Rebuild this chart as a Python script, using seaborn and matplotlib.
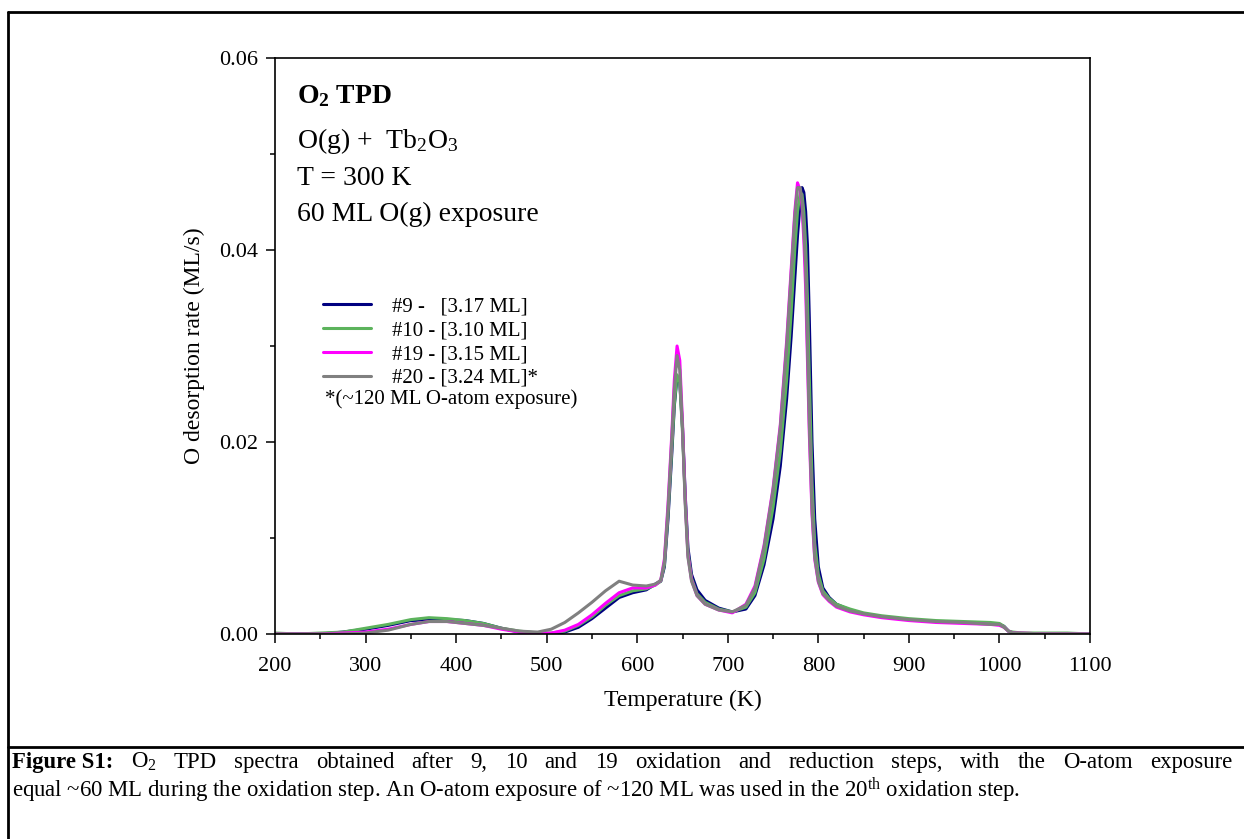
import numpy as np
import pandas as pd
import matplotlib
matplotlib.use('Agg')
import matplotlib.pyplot as plt
import seaborn as sns
from matplotlib.lines import Line2D
from matplotlib.ticker import MultipleLocator, FormatStrFormatter

# temperature grid (K) shared by all four TPD runs
temp = [200, 225, 250, 275, 300, 325, 350, 370, 390, 410, 430, 450, 470, 490,
        505, 520, 535, 550, 565, 580, 595, 610, 620, 626, 630, 634, 638, 641,
        644, 647, 650, 653, 656, 660, 666, 675, 690, 705, 720, 730, 740, 750,
        758, 765, 770, 774, 777, 780, 782, 784, 786, 788, 790, 793, 796, 800,
        805, 812, 820, 835, 850, 870, 900, 930, 960, 990, 1000, 1005, 1010,
        1015, 1025, 1050, 1075, 1100]

# O desorption rate (ML/s)
run9 = [0.0000, 0.0000, 0.0000, 0.0002, 0.0005, 0.0009, 0.0014, 0.0015, 0.0015, 0.0014,
        0.0011, 0.0006, 0.0002, 0.0001, 0.0000, 0.0002, 0.0007, 0.0016, 0.0027, 0.0038,
        0.0043, 0.0046, 0.0052, 0.0055, 0.0070, 0.0120, 0.0185, 0.0238, 0.0268, 0.0262,
        0.0215, 0.0145, 0.0090, 0.0062, 0.0046, 0.0035, 0.0027, 0.0023, 0.0026, 0.0040,
        0.0072, 0.0120, 0.0175, 0.0245, 0.0310, 0.0370, 0.0415, 0.0450, 0.0465, 0.0460,
        0.0440, 0.0405, 0.0330, 0.0200, 0.0120, 0.0070, 0.0048, 0.0038, 0.0031, 0.0025,
        0.0021, 0.0018, 0.0015, 0.0013, 0.0012, 0.0011, 0.0010, 0.0008, 0.0003, 0.0001,
        0.0000, 0.0000, 0.0000, 0.0000]
run10 = [0.0001, 0.0000, 0.0001, 0.0002, 0.0006, 0.0010, 0.0015, 0.0017, 0.0016, 0.0014,
         0.0011, 0.0006, 0.0003, 0.0001, 0.0001, 0.0003, 0.0009, 0.0018, 0.0030, 0.0040,
         0.0045, 0.0047, 0.0051, 0.0055, 0.0072, 0.0125, 0.0190, 0.0240, 0.0270, 0.0262,
         0.0210, 0.0140, 0.0085, 0.0058, 0.0042, 0.0033, 0.0026, 0.0023, 0.0028, 0.0043,
         0.0078, 0.0132, 0.0190, 0.0265, 0.0335, 0.0400, 0.0440, 0.0460, 0.0458, 0.0440,
         0.0405, 0.0350, 0.0270, 0.0160, 0.0095, 0.0062, 0.0045, 0.0037, 0.0031, 0.0026,
         0.0022, 0.0019, 0.0016, 0.0014, 0.0013, 0.0012, 0.0011, 0.0008, 0.0003, 0.0002,
         0.0001, 0.0001, 0.0001, 0.0000]
run19 = [0.0000, 0.0000, 0.0000, 0.0001, 0.0002, 0.0005, 0.0010, 0.0013, 0.0013, 0.0011,
         0.0009, 0.0005, 0.0002, 0.0001, 0.0001, 0.0004, 0.0010, 0.0020, 0.0032, 0.0043,
         0.0048, 0.0048, 0.0051, 0.0056, 0.0078, 0.0135, 0.0205, 0.0265, 0.0300, 0.0285,
         0.0220, 0.0140, 0.0082, 0.0056, 0.0040, 0.0031, 0.0025, 0.0022, 0.0031, 0.0050,
         0.0092, 0.0152, 0.0218, 0.0305, 0.0380, 0.0440, 0.0470, 0.0462, 0.0445, 0.0410,
         0.0360, 0.0285, 0.0210, 0.0125, 0.0078, 0.0054, 0.0041, 0.0034, 0.0028, 0.0023,
         0.0020, 0.0017, 0.0014, 0.0012, 0.0011, 0.0010, 0.0009, 0.0007, 0.0003, 0.0001,
         0.0001, 0.0000, 0.0000, 0.0000]
run20 = [0.0000, 0.0000, 0.0000, 0.0000, 0.0001, 0.0004, 0.0010, 0.0013, 0.0013, 0.0011,
         0.0009, 0.0006, 0.0003, 0.0002, 0.0005, 0.0012, 0.0022, 0.0033, 0.0045, 0.0055,
         0.0051, 0.0050, 0.0052, 0.0056, 0.0075, 0.0130, 0.0200, 0.0255, 0.0290, 0.0275,
         0.0215, 0.0135, 0.0080, 0.0055, 0.0040, 0.0031, 0.0025, 0.0023, 0.0030, 0.0048,
         0.0090, 0.0150, 0.0215, 0.0300, 0.0375, 0.0435, 0.0465, 0.0465, 0.0450, 0.0420,
         0.0380, 0.0300, 0.0220, 0.0130, 0.0080, 0.0055, 0.0042, 0.0035, 0.0029, 0.0024,
         0.0021, 0.0018, 0.0015, 0.0013, 0.0012, 0.0010, 0.0010, 0.0007, 0.0003, 0.0001,
         0.0001, 0.0000, 0.0000, 0.0000]

labels = ['#9 -   [3.17 ML]', '#10 - [3.10 ML]', '#19 - [3.15 ML]', '#20 - [3.24 ML]*']
colors = ['#000080', '#5cb35c', '#ff00ff', '#808080']

# caption, first line is justified like in the paper (first word is bold)
caption1 = ['Figure S1:', r'O$_2$', 'TPD', 'spectra', 'obtained', 'after',
            '9,', '10', 'and', '19', 'oxidation', 'and', 'reduction', 'steps,', 'with',
            'the', 'O-atom', 'exposure']
caption2 = (r'equal ~60 ML during the oxidation step. An O-atom exposure of ~120 ML '
            r'was used in the 20$^{\mathrm{th}}$ oxidation step.')

sns.set_style('white')
plt.rcParams['font.family'] = ['Liberation Serif', 'DejaVu Serif']
plt.rcParams['mathtext.fontset'] = 'custom'
plt.rcParams['mathtext.rm'] = 'Liberation Serif'
plt.rcParams['mathtext.it'] = 'Liberation Serif:italic'
plt.rcParams['mathtext.bf'] = 'Liberation Serif:bold'
for key in ['text.color', 'axes.labelcolor', 'xtick.color', 'ytick.color']:
    plt.rcParams[key] = 'black'

df = pd.DataFrame({
    'T': temp * 4,
    'rate': run9 + run10 + run19 + run20,
    'run': sum([[lab] * len(temp) for lab in labels], []),
})

W, H = 1244, 839
fig = plt.figure(figsize=(W / 100, H / 100), dpi=100)
ax = fig.add_axes([275 / W, 1 - 634 / H, (1090 - 275) / W, (634 - 58) / H])

sns.lineplot(data=df, x='T', y='rate', hue='run', hue_order=labels,
             palette=dict(zip(labels, colors)), estimator=None, sort=False,
             lw=2.2, ax=ax)

ax.set_xlim(200, 1100)
ax.set_ylim(0, 0.06)
ax.xaxis.set_major_locator(MultipleLocator(100))
ax.xaxis.set_minor_locator(MultipleLocator(50))
ax.yaxis.set_major_locator(MultipleLocator(0.02))
ax.yaxis.set_minor_locator(MultipleLocator(0.01))
ax.yaxis.set_major_formatter(FormatStrFormatter('%.2f'))
ax.tick_params(which='major', direction='out', length=6.5, width=1.1,
               labelsize=16, color='k', bottom=True, left=True)
ax.tick_params(which='minor', direction='out', length=3.5, width=1.1,
               bottom=True, left=True)
ax.tick_params(axis='x', which='major', pad=10)
ax.tick_params(axis='y', which='major', pad=6)
for s in ax.spines.values():
    s.set_color('k')
    s.set_linewidth(1.2)

ax.set_xlabel('Temperature (K)', fontsize=17, labelpad=10)
ax.set_ylabel('O desorption rate (ML/s)', fontsize=17, labelpad=10)

leg = ax.legend(loc='upper left', bbox_to_anchor=(323 / W, 1 - 297 / H),
                bbox_transform=fig.transFigure, frameon=False, fontsize=15,
                handlelength=2.3, handletextpad=1.0, labelspacing=0.2,
                borderpad=0, borderaxespad=0)
for h in leg.get_lines():
    h.set_linewidth(2.2)
fig.text(325 / W, 1 - 399 / H, '*(~120 ML O-atom exposure)', fontsize=15,
         va='center', ha='left')

# annotation block
fig.text(297 / W, 1 - 103 / H, r'$\mathbf{O_2\ TPD}$', fontsize=20, va='baseline')
fig.text(297 / W, 1 - 148 / H, r'O(g) +  Tb$_2$O$_3$', fontsize=20, va='baseline')
fig.text(297 / W, 1 - 185 / H, 'T = 300 K', fontsize=20, va='baseline')
fig.text(297 / W, 1 - 221 / H, '60 ML O(g) exposure', fontsize=20, va='baseline')

# outer frame and caption box
lw_frame = 2.0
fig.add_artist(Line2D([8 / W, 8 / W], [0, 1 - 12 / H], transform=fig.transFigure,
                      color='k', lw=lw_frame))
fig.add_artist(Line2D([8 / W, 1], [1 - 12 / H, 1 - 12 / H], transform=fig.transFigure,
                      color='k', lw=lw_frame))
fig.add_artist(Line2D([8 / W, 1], [1 - 747 / H, 1 - 747 / H], transform=fig.transFigure,
                      color='k', lw=lw_frame))

# justified first caption line: measure the words first, then place them
renderer = fig.canvas.get_renderer()
cap_size = 16.4
widths = []
for i, w in enumerate(caption1):
    tmp = fig.text(0, 0, w, fontsize=cap_size, fontweight='bold' if i == 0 else 'normal')
    widths.append(tmp.get_window_extent(renderer).width)
    tmp.remove()
gap = (1232 - 12 - sum(widths)) / (len(caption1) - 1)
x = 12
for i, (w, wd) in enumerate(zip(caption1, widths)):
    fig.text(x / W, 1 - 768 / H, w, fontsize=cap_size, va='baseline',
             fontweight='bold' if i == 0 else 'normal')
    x += wd + gap

fig.text(12 / W, 1 - 797 / H, caption2, fontsize=cap_size, va='baseline')

fig.savefig('out.png', dpi=100)
